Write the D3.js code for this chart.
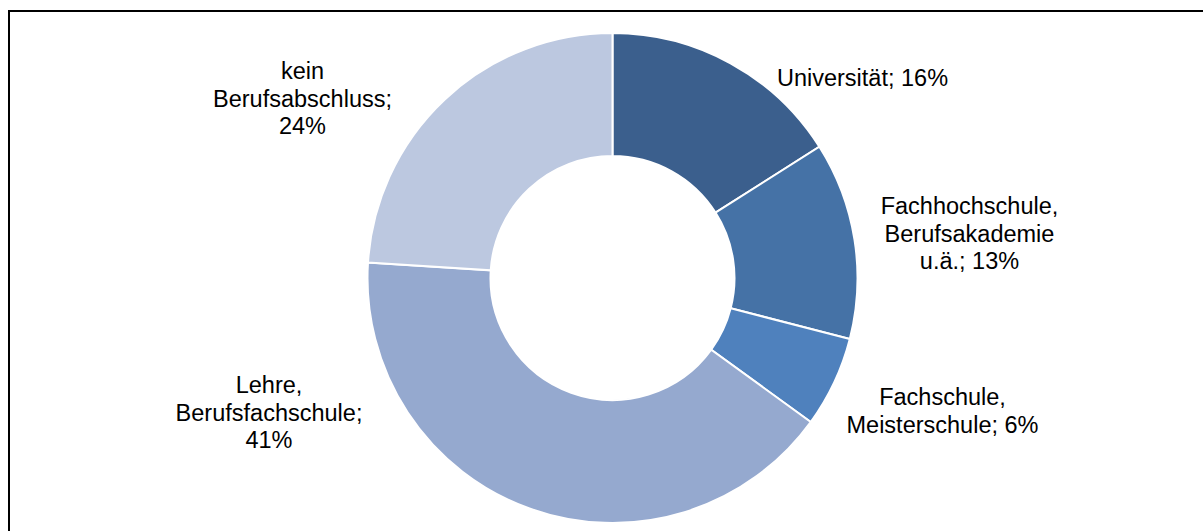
<!DOCTYPE html>
<html>
<head>
<meta charset="utf-8">
<script src="https://cdn.jsdelivr.net/npm/d3@7"></script>
<style>
  html, body { margin: 0; padding: 0; background: #fff; }
  svg { display: block; }
  text { font-family: "Liberation Sans", Arial, sans-serif; fill: #000; }
</style>
</head>
<body>
<svg id="chart" width="1203" height="531"></svg>
<script>
// Shares of highest vocational qualification (percent)
const categories = [
  "Universität",
  "Fachhochschule, Berufsakademie u.ä.",
  "Fachschule, Meisterschule",
  "Lehre, Berufsfachschule",
  "kein Berufsabschluss"
];
const values = [16, 13, 6, 41, 24];

// Label text, one entry per line
const labelLines = [
  ["Universität; 16%"],
  ["Fachhochschule,", "Berufsakademie", "u.ä.; 13%"],
  ["Fachschule,", "Meisterschule; 6%"],
  ["Lehre,", "Berufsfachschule;", "41%"],
  ["kein", "Berufsabschluss;", "24%"]
];

const colors = ["#3b5f8d", "#4572a6", "#4f81bd", "#95a9cf", "#bcc8e0"];

// Label anchors: offset of the first baseline from the donut centre
const labelOffsets = [
  [250, -192],
  [357, -64],
  [330, 127],
  [-343.5, 115],
  [-310, -199]
];

const W = 1203, H = 531;
const cx = 612.5, cy = 278;
const outerR = 245, innerR = 122;
const lineHeight = 27.5;

const svg = d3.select("#chart");

// Frame
svg.append("rect")
  .attr("x", 9).attr("y", 11)
  .attr("width", W + 10).attr("height", H + 10)
  .attr("fill", "none")
  .attr("stroke", "#000")
  .attr("stroke-width", 2);

const pie = d3.pie().sort(null).value(d => d)
  .startAngle(0).endAngle(2 * Math.PI);
const arc = d3.arc().innerRadius(innerR).outerRadius(outerR);

const g = svg.append("g").attr("transform", `translate(${cx},${cy})`);

g.selectAll("path.slice")
  .data(pie(values))
  .join("path")
  .attr("class", "slice")
  .attr("d", arc)
  .attr("fill", (d, i) => colors[i])
  .attr("stroke", "#fff")
  .attr("stroke-width", 2)
  .attr("stroke-linejoin", "miter");

const labels = g.selectAll("text.label")
  .data(labelLines)
  .join("text")
  .attr("class", "label")
  .attr("text-anchor", "middle")
  .attr("font-size", 23.5)
  .attr("transform", (d, i) => `translate(${labelOffsets[i][0]},${labelOffsets[i][1]})`);

labels.selectAll("tspan")
  .data(d => d)
  .join("tspan")
  .attr("x", 0)
  .attr("y", (d, j) => j * lineHeight)
  .text(d => d);
</script>
</body>
</html>
